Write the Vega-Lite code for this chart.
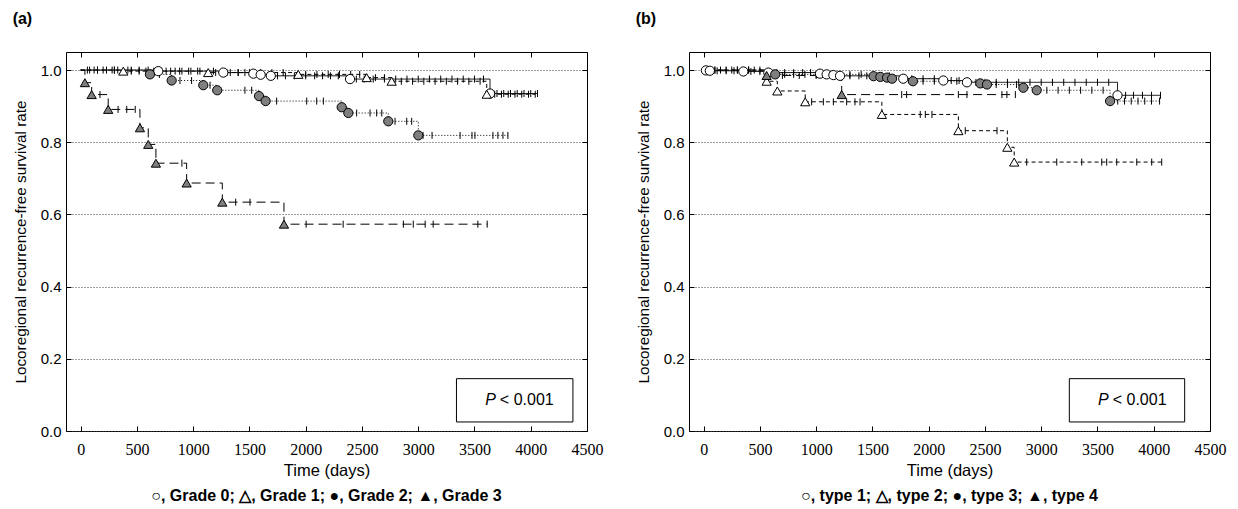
{
 "$schema": "https://vega.github.io/schema/vega-lite/v6.json",
 "background": "white",
 "padding": {"left": 12, "top": 11, "right": 2, "bottom": 2},
 "spacing": 31,
 "datasets": {
  "km": [
   {"p":"a","g":"Grade 0","k":"s","t":0,"s":1},
   {"p":"a","g":"Grade 0","k":"c","t":60,"s":1},{"p":"a","g":"Grade 0","k":"c","t":120,"s":1},{"p":"a","g":"Grade 0","k":"c","t":200,"s":1},{"p":"a","g":"Grade 0","k":"c","t":280,"s":1},{"p":"a","g":"Grade 0","k":"c","t":330,"s":1},{"p":"a","g":"Grade 0","k":"c","t":420,"s":1},{"p":"a","g":"Grade 0","k":"c","t":520,"s":1},{"p":"a","g":"Grade 0","k":"c","t":600,"s":1},
   {"p":"a","g":"Grade 0","k":"e","t":690,"s":0.997},
   {"p":"a","g":"Grade 0","k":"c","t":760,"s":0.997},{"p":"a","g":"Grade 0","k":"c","t":840,"s":0.997},{"p":"a","g":"Grade 0","k":"c","t":900,"s":0.997},{"p":"a","g":"Grade 0","k":"c","t":980,"s":0.997},{"p":"a","g":"Grade 0","k":"c","t":1060,"s":0.997},{"p":"a","g":"Grade 0","k":"c","t":1180,"s":0.997},
   {"p":"a","g":"Grade 0","k":"e","t":1268,"s":0.993},
   {"p":"a","g":"Grade 0","k":"c","t":1330,"s":0.993},{"p":"a","g":"Grade 0","k":"c","t":1400,"s":0.993},{"p":"a","g":"Grade 0","k":"c","t":1460,"s":0.993},
   {"p":"a","g":"Grade 0","k":"e","t":1535,"s":0.99},{"p":"a","g":"Grade 0","k":"e","t":1600,"s":0.987},{"p":"a","g":"Grade 0","k":"e","t":1690,"s":0.984},
   {"p":"a","g":"Grade 0","k":"c","t":1750,"s":0.984},{"p":"a","g":"Grade 0","k":"c","t":1820,"s":0.984},{"p":"a","g":"Grade 0","k":"c","t":1900,"s":0.984},{"p":"a","g":"Grade 0","k":"c","t":2000,"s":0.984},{"p":"a","g":"Grade 0","k":"c","t":2080,"s":0.984},{"p":"a","g":"Grade 0","k":"c","t":2150,"s":0.984},{"p":"a","g":"Grade 0","k":"c","t":2220,"s":0.984},{"p":"a","g":"Grade 0","k":"c","t":2290,"s":0.984},
   {"p":"a","g":"Grade 0","k":"e","t":2394,"s":0.975},
   {"p":"a","g":"Grade 0","k":"c","t":2450,"s":0.975},{"p":"a","g":"Grade 0","k":"c","t":2520,"s":0.975},{"p":"a","g":"Grade 0","k":"c","t":2600,"s":0.975},{"p":"a","g":"Grade 0","k":"c","t":2700,"s":0.975},{"p":"a","g":"Grade 0","k":"c","t":2800,"s":0.975},{"p":"a","g":"Grade 0","k":"c","t":2900,"s":0.975},{"p":"a","g":"Grade 0","k":"c","t":3000,"s":0.975},{"p":"a","g":"Grade 0","k":"c","t":3100,"s":0.975},{"p":"a","g":"Grade 0","k":"c","t":3200,"s":0.975},{"p":"a","g":"Grade 0","k":"c","t":3300,"s":0.975},{"p":"a","g":"Grade 0","k":"c","t":3400,"s":0.975},{"p":"a","g":"Grade 0","k":"c","t":3500,"s":0.975},{"p":"a","g":"Grade 0","k":"c","t":3580,"s":0.975},
   {"p":"a","g":"Grade 0","k":"e","t":3638,"s":0.935},
   {"p":"a","g":"Grade 0","k":"c","t":3700,"s":0.935},{"p":"a","g":"Grade 0","k":"c","t":3760,"s":0.935},{"p":"a","g":"Grade 0","k":"c","t":3820,"s":0.935},{"p":"a","g":"Grade 0","k":"c","t":3880,"s":0.935},{"p":"a","g":"Grade 0","k":"c","t":3940,"s":0.935},{"p":"a","g":"Grade 0","k":"c","t":4000,"s":0.935},{"p":"a","g":"Grade 0","k":"c","t":4060,"s":0.935},

   {"p":"a","g":"Grade 1","k":"s","t":0,"s":1},
   {"p":"a","g":"Grade 1","k":"c","t":80,"s":1},{"p":"a","g":"Grade 1","k":"c","t":150,"s":1},{"p":"a","g":"Grade 1","k":"c","t":230,"s":1},{"p":"a","g":"Grade 1","k":"c","t":300,"s":1},
   {"p":"a","g":"Grade 1","k":"e","t":379,"s":0.997},
   {"p":"a","g":"Grade 1","k":"c","t":450,"s":0.997},{"p":"a","g":"Grade 1","k":"c","t":520,"s":0.997},{"p":"a","g":"Grade 1","k":"c","t":580,"s":0.997},{"p":"a","g":"Grade 1","k":"c","t":650,"s":0.997},{"p":"a","g":"Grade 1","k":"c","t":720,"s":0.997},{"p":"a","g":"Grade 1","k":"c","t":800,"s":0.997},{"p":"a","g":"Grade 1","k":"c","t":880,"s":0.997},{"p":"a","g":"Grade 1","k":"c","t":960,"s":0.997},{"p":"a","g":"Grade 1","k":"c","t":1040,"s":0.997},
   {"p":"a","g":"Grade 1","k":"e","t":1134,"s":0.993},
   {"p":"a","g":"Grade 1","k":"c","t":1200,"s":0.993},{"p":"a","g":"Grade 1","k":"c","t":1300,"s":0.993},{"p":"a","g":"Grade 1","k":"c","t":1400,"s":0.993},{"p":"a","g":"Grade 1","k":"c","t":1500,"s":0.993},{"p":"a","g":"Grade 1","k":"c","t":1600,"s":0.993},{"p":"a","g":"Grade 1","k":"c","t":1700,"s":0.993},{"p":"a","g":"Grade 1","k":"c","t":1800,"s":0.993},
   {"p":"a","g":"Grade 1","k":"e","t":1934,"s":0.988},
   {"p":"a","g":"Grade 1","k":"c","t":2000,"s":0.988},{"p":"a","g":"Grade 1","k":"c","t":2100,"s":0.988},{"p":"a","g":"Grade 1","k":"c","t":2200,"s":0.988},{"p":"a","g":"Grade 1","k":"c","t":2300,"s":0.988},{"p":"a","g":"Grade 1","k":"c","t":2400,"s":0.988},{"p":"a","g":"Grade 1","k":"c","t":2480,"s":0.988},
   {"p":"a","g":"Grade 1","k":"e","t":2542,"s":0.979},
   {"p":"a","g":"Grade 1","k":"c","t":2620,"s":0.979},{"p":"a","g":"Grade 1","k":"c","t":2700,"s":0.979},
   {"p":"a","g":"Grade 1","k":"e","t":2764,"s":0.969},
   {"p":"a","g":"Grade 1","k":"c","t":2850,"s":0.969},{"p":"a","g":"Grade 1","k":"c","t":2950,"s":0.969},{"p":"a","g":"Grade 1","k":"c","t":3050,"s":0.969},{"p":"a","g":"Grade 1","k":"c","t":3150,"s":0.969},{"p":"a","g":"Grade 1","k":"c","t":3250,"s":0.969},{"p":"a","g":"Grade 1","k":"c","t":3350,"s":0.969},{"p":"a","g":"Grade 1","k":"c","t":3450,"s":0.969},{"p":"a","g":"Grade 1","k":"c","t":3550,"s":0.969},
   {"p":"a","g":"Grade 1","k":"e","t":3609,"s":0.933},
   {"p":"a","g":"Grade 1","k":"c","t":3680,"s":0.933},{"p":"a","g":"Grade 1","k":"c","t":3740,"s":0.933},{"p":"a","g":"Grade 1","k":"c","t":3800,"s":0.933},{"p":"a","g":"Grade 1","k":"c","t":3860,"s":0.933},{"p":"a","g":"Grade 1","k":"c","t":3920,"s":0.933},{"p":"a","g":"Grade 1","k":"c","t":3980,"s":0.933},{"p":"a","g":"Grade 1","k":"c","t":4040,"s":0.933},

   {"p":"a","g":"Grade 2","k":"s","t":0,"s":1},
   {"p":"a","g":"Grade 2","k":"c","t":150,"s":1},{"p":"a","g":"Grade 2","k":"c","t":300,"s":1},{"p":"a","g":"Grade 2","k":"c","t":450,"s":1},
   {"p":"a","g":"Grade 2","k":"e","t":616,"s":0.988},
   {"p":"a","g":"Grade 2","k":"c","t":700,"s":0.988},
   {"p":"a","g":"Grade 2","k":"e","t":809,"s":0.971},
   {"p":"a","g":"Grade 2","k":"c","t":883,"s":0.971},{"p":"a","g":"Grade 2","k":"c","t":986,"s":0.971},
   {"p":"a","g":"Grade 2","k":"e","t":1090,"s":0.958},
   {"p":"a","g":"Grade 2","k":"c","t":1150,"s":0.958},
   {"p":"a","g":"Grade 2","k":"e","t":1214,"s":0.944},
   {"p":"a","g":"Grade 2","k":"c","t":1460,"s":0.944},{"p":"a","g":"Grade 2","k":"c","t":1520,"s":0.944},
   {"p":"a","g":"Grade 2","k":"e","t":1585,"s":0.928},
   {"p":"a","g":"Grade 2","k":"e","t":1644,"s":0.914},
   {"p":"a","g":"Grade 2","k":"c","t":1742,"s":0.914},{"p":"a","g":"Grade 2","k":"c","t":2009,"s":0.914},{"p":"a","g":"Grade 2","k":"c","t":2098,"s":0.914},{"p":"a","g":"Grade 2","k":"c","t":2157,"s":0.914},
   {"p":"a","g":"Grade 2","k":"e","t":2320,"s":0.897},
   {"p":"a","g":"Grade 2","k":"e","t":2379,"s":0.881},
   {"p":"a","g":"Grade 2","k":"c","t":2453,"s":0.881},{"p":"a","g":"Grade 2","k":"c","t":2572,"s":0.881},{"p":"a","g":"Grade 2","k":"c","t":2631,"s":0.881},{"p":"a","g":"Grade 2","k":"c","t":2676,"s":0.881},
   {"p":"a","g":"Grade 2","k":"e","t":2734,"s":0.858},
   {"p":"a","g":"Grade 2","k":"c","t":2794,"s":0.858},{"p":"a","g":"Grade 2","k":"c","t":2898,"s":0.858},{"p":"a","g":"Grade 2","k":"c","t":2942,"s":0.858},
   {"p":"a","g":"Grade 2","k":"e","t":3001,"s":0.819},
   {"p":"a","g":"Grade 2","k":"c","t":3043,"s":0.819},{"p":"a","g":"Grade 2","k":"c","t":3123,"s":0.819},{"p":"a","g":"Grade 2","k":"c","t":3372,"s":0.819},{"p":"a","g":"Grade 2","k":"c","t":3478,"s":0.819},{"p":"a","g":"Grade 2","k":"c","t":3504,"s":0.819},{"p":"a","g":"Grade 2","k":"c","t":3664,"s":0.819},{"p":"a","g":"Grade 2","k":"c","t":3708,"s":0.819},{"p":"a","g":"Grade 2","k":"c","t":3753,"s":0.819},{"p":"a","g":"Grade 2","k":"c","t":3797,"s":0.819},

   {"p":"a","g":"Grade 3","k":"s","t":0,"s":1},
   {"p":"a","g":"Grade 3","k":"e","t":38,"s":0.965},
   {"p":"a","g":"Grade 3","k":"e","t":98,"s":0.932},
   {"p":"a","g":"Grade 3","k":"c","t":172,"s":0.932},
   {"p":"a","g":"Grade 3","k":"e","t":245,"s":0.891},
   {"p":"a","g":"Grade 3","k":"c","t":333,"s":0.891},{"p":"a","g":"Grade 3","k":"c","t":410,"s":0.891},{"p":"a","g":"Grade 3","k":"c","t":485,"s":0.891},
   {"p":"a","g":"Grade 3","k":"e","t":527,"s":0.84},
   {"p":"a","g":"Grade 3","k":"e","t":601,"s":0.794},
   {"p":"a","g":"Grade 3","k":"e","t":669,"s":0.742},
   {"p":"a","g":"Grade 3","k":"c","t":900,"s":0.742},
   {"p":"a","g":"Grade 3","k":"e","t":942,"s":0.687},
   {"p":"a","g":"Grade 3","k":"e","t":1259,"s":0.634},
   {"p":"a","g":"Grade 3","k":"c","t":1378,"s":0.634},{"p":"a","g":"Grade 3","k":"c","t":1505,"s":0.634},
   {"p":"a","g":"Grade 3","k":"e","t":1807,"s":0.573},
   {"p":"a","g":"Grade 3","k":"c","t":2004,"s":0.573},{"p":"a","g":"Grade 3","k":"c","t":2333,"s":0.573},{"p":"a","g":"Grade 3","k":"c","t":2868,"s":0.573},{"p":"a","g":"Grade 3","k":"c","t":2956,"s":0.573},{"p":"a","g":"Grade 3","k":"c","t":3062,"s":0.573},{"p":"a","g":"Grade 3","k":"c","t":3133,"s":0.573},{"p":"a","g":"Grade 3","k":"c","t":3530,"s":0.573},{"p":"a","g":"Grade 3","k":"c","t":3613,"s":0.573},

   {"p":"b","g":"type 1","k":"s","t":0,"s":1},
   {"p":"b","g":"type 1","k":"e","t":20,"s":0.999},{"p":"b","g":"type 1","k":"e","t":55,"s":0.998},
   {"p":"b","g":"type 1","k":"c","t":120,"s":0.998},{"p":"b","g":"type 1","k":"c","t":200,"s":0.998},{"p":"b","g":"type 1","k":"c","t":270,"s":0.998},
   {"p":"b","g":"type 1","k":"e","t":353,"s":0.996},
   {"p":"b","g":"type 1","k":"c","t":420,"s":0.996},{"p":"b","g":"type 1","k":"c","t":500,"s":0.996},
   {"p":"b","g":"type 1","k":"e","t":575,"s":0.993},
   {"p":"b","g":"type 1","k":"c","t":650,"s":0.993},{"p":"b","g":"type 1","k":"c","t":720,"s":0.993},{"p":"b","g":"type 1","k":"c","t":800,"s":0.993},{"p":"b","g":"type 1","k":"c","t":880,"s":0.993},{"p":"b","g":"type 1","k":"c","t":950,"s":0.993},
   {"p":"b","g":"type 1","k":"e","t":1034,"s":0.99},{"p":"b","g":"type 1","k":"e","t":1093,"s":0.988},{"p":"b","g":"type 1","k":"e","t":1153,"s":0.986},{"p":"b","g":"type 1","k":"e","t":1212,"s":0.984},
   {"p":"b","g":"type 1","k":"c","t":1300,"s":0.984},{"p":"b","g":"type 1","k":"c","t":1380,"s":0.984},{"p":"b","g":"type 1","k":"c","t":1450,"s":0.984},{"p":"b","g":"type 1","k":"c","t":1550,"s":0.984},{"p":"b","g":"type 1","k":"c","t":1650,"s":0.984},
   {"p":"b","g":"type 1","k":"e","t":1774,"s":0.976},
   {"p":"b","g":"type 1","k":"c","t":1850,"s":0.976},{"p":"b","g":"type 1","k":"c","t":1950,"s":0.976},{"p":"b","g":"type 1","k":"c","t":2050,"s":0.976},
   {"p":"b","g":"type 1","k":"e","t":2130,"s":0.971},
   {"p":"b","g":"type 1","k":"c","t":2200,"s":0.971},{"p":"b","g":"type 1","k":"c","t":2270,"s":0.971},
   {"p":"b","g":"type 1","k":"e","t":2340,"s":0.966},
   {"p":"b","g":"type 1","k":"c","t":2420,"s":0.966},{"p":"b","g":"type 1","k":"c","t":2500,"s":0.966},{"p":"b","g":"type 1","k":"c","t":2600,"s":0.966},{"p":"b","g":"type 1","k":"c","t":2700,"s":0.966},{"p":"b","g":"type 1","k":"c","t":2800,"s":0.966},{"p":"b","g":"type 1","k":"c","t":2900,"s":0.966},{"p":"b","g":"type 1","k":"c","t":3000,"s":0.966},{"p":"b","g":"type 1","k":"c","t":3100,"s":0.966},{"p":"b","g":"type 1","k":"c","t":3200,"s":0.966},{"p":"b","g":"type 1","k":"c","t":3300,"s":0.966},{"p":"b","g":"type 1","k":"c","t":3400,"s":0.966},{"p":"b","g":"type 1","k":"c","t":3500,"s":0.966},{"p":"b","g":"type 1","k":"c","t":3600,"s":0.966},
   {"p":"b","g":"type 1","k":"e","t":3678,"s":0.93},
   {"p":"b","g":"type 1","k":"c","t":3750,"s":0.93},{"p":"b","g":"type 1","k":"c","t":3820,"s":0.93},{"p":"b","g":"type 1","k":"c","t":3900,"s":0.93},{"p":"b","g":"type 1","k":"c","t":3980,"s":0.93},{"p":"b","g":"type 1","k":"c","t":4060,"s":0.93},

   {"p":"b","g":"type 2","k":"s","t":0,"s":1},
   {"p":"b","g":"type 2","k":"c","t":100,"s":1},{"p":"b","g":"type 2","k":"c","t":250,"s":1},{"p":"b","g":"type 2","k":"c","t":400,"s":1},
   {"p":"b","g":"type 2","k":"e","t":560,"s":0.969},
   {"p":"b","g":"type 2","k":"e","t":655,"s":0.942},
   {"p":"b","g":"type 2","k":"e","t":903,"s":0.912},
   {"p":"b","g":"type 2","k":"c","t":960,"s":0.912},{"p":"b","g":"type 2","k":"c","t":1064,"s":0.912},{"p":"b","g":"type 2","k":"c","t":1153,"s":0.912},{"p":"b","g":"type 2","k":"c","t":1271,"s":0.912},{"p":"b","g":"type 2","k":"c","t":1345,"s":0.912},{"p":"b","g":"type 2","k":"c","t":1390,"s":0.912},
   {"p":"b","g":"type 2","k":"e","t":1584,"s":0.877},
   {"p":"b","g":"type 2","k":"c","t":1925,"s":0.877},{"p":"b","g":"type 2","k":"c","t":1970,"s":0.877},{"p":"b","g":"type 2","k":"c","t":2029,"s":0.877},
   {"p":"b","g":"type 2","k":"e","t":2264,"s":0.832},
   {"p":"b","g":"type 2","k":"c","t":2325,"s":0.832},{"p":"b","g":"type 2","k":"c","t":2607,"s":0.832},
   {"p":"b","g":"type 2","k":"e","t":2699,"s":0.786},
   {"p":"b","g":"type 2","k":"e","t":2760,"s":0.745},
   {"p":"b","g":"type 2","k":"c","t":2871,"s":0.745},{"p":"b","g":"type 2","k":"c","t":3138,"s":0.745},{"p":"b","g":"type 2","k":"c","t":3360,"s":0.745},{"p":"b","g":"type 2","k":"c","t":3538,"s":0.745},{"p":"b","g":"type 2","k":"c","t":3582,"s":0.745},{"p":"b","g":"type 2","k":"c","t":3671,"s":0.745},{"p":"b","g":"type 2","k":"c","t":3849,"s":0.745},{"p":"b","g":"type 2","k":"c","t":3982,"s":0.745},{"p":"b","g":"type 2","k":"c","t":4071,"s":0.745},

   {"p":"b","g":"type 3","k":"s","t":0,"s":1},
   {"p":"b","g":"type 3","k":"c","t":100,"s":1},{"p":"b","g":"type 3","k":"c","t":200,"s":1},{"p":"b","g":"type 3","k":"c","t":300,"s":1},{"p":"b","g":"type 3","k":"c","t":400,"s":1},{"p":"b","g":"type 3","k":"c","t":500,"s":1},
   {"p":"b","g":"type 3","k":"e","t":636,"s":0.988},
   {"p":"b","g":"type 3","k":"c","t":720,"s":0.988},{"p":"b","g":"type 3","k":"c","t":800,"s":0.988},{"p":"b","g":"type 3","k":"c","t":900,"s":0.988},{"p":"b","g":"type 3","k":"c","t":1000,"s":0.988},{"p":"b","g":"type 3","k":"c","t":1100,"s":0.988},{"p":"b","g":"type 3","k":"c","t":1200,"s":0.988},{"p":"b","g":"type 3","k":"c","t":1300,"s":0.988},{"p":"b","g":"type 3","k":"c","t":1400,"s":0.988},
   {"p":"b","g":"type 3","k":"e","t":1510,"s":0.983},{"p":"b","g":"type 3","k":"e","t":1570,"s":0.981},{"p":"b","g":"type 3","k":"e","t":1630,"s":0.979},{"p":"b","g":"type 3","k":"e","t":1675,"s":0.976},
   {"p":"b","g":"type 3","k":"c","t":1750,"s":0.976},
   {"p":"b","g":"type 3","k":"e","t":1860,"s":0.969},
   {"p":"b","g":"type 3","k":"c","t":1950,"s":0.969},{"p":"b","g":"type 3","k":"c","t":2050,"s":0.969},{"p":"b","g":"type 3","k":"c","t":2150,"s":0.969},{"p":"b","g":"type 3","k":"c","t":2250,"s":0.969},{"p":"b","g":"type 3","k":"c","t":2350,"s":0.969},
   {"p":"b","g":"type 3","k":"e","t":2459,"s":0.963},{"p":"b","g":"type 3","k":"e","t":2518,"s":0.96},
   {"p":"b","g":"type 3","k":"c","t":2600,"s":0.96},{"p":"b","g":"type 3","k":"c","t":2700,"s":0.96},{"p":"b","g":"type 3","k":"c","t":2780,"s":0.96},
   {"p":"b","g":"type 3","k":"e","t":2841,"s":0.951},
   {"p":"b","g":"type 3","k":"e","t":2960,"s":0.944},
   {"p":"b","g":"type 3","k":"c","t":3050,"s":0.944},{"p":"b","g":"type 3","k":"c","t":3150,"s":0.944},{"p":"b","g":"type 3","k":"c","t":3250,"s":0.944},{"p":"b","g":"type 3","k":"c","t":3350,"s":0.944},{"p":"b","g":"type 3","k":"c","t":3450,"s":0.944},{"p":"b","g":"type 3","k":"c","t":3550,"s":0.944},
   {"p":"b","g":"type 3","k":"e","t":3612,"s":0.914},
   {"p":"b","g":"type 3","k":"c","t":3680,"s":0.914},{"p":"b","g":"type 3","k":"c","t":3740,"s":0.914},{"p":"b","g":"type 3","k":"c","t":3800,"s":0.914},{"p":"b","g":"type 3","k":"c","t":3860,"s":0.914},{"p":"b","g":"type 3","k":"c","t":3920,"s":0.914},{"p":"b","g":"type 3","k":"c","t":3980,"s":0.914},{"p":"b","g":"type 3","k":"c","t":4052,"s":0.914},

   {"p":"b","g":"type 4","k":"s","t":0,"s":1},
   {"p":"b","g":"type 4","k":"c","t":150,"s":1},{"p":"b","g":"type 4","k":"c","t":300,"s":1},{"p":"b","g":"type 4","k":"c","t":450,"s":1},
   {"p":"b","g":"type 4","k":"e","t":560,"s":0.985},
   {"p":"b","g":"type 4","k":"c","t":700,"s":0.985},{"p":"b","g":"type 4","k":"c","t":850,"s":0.985},{"p":"b","g":"type 4","k":"c","t":1000,"s":0.985},{"p":"b","g":"type 4","k":"c","t":1100,"s":0.985},
   {"p":"b","g":"type 4","k":"e","t":1227,"s":0.932},
   {"p":"b","g":"type 4","k":"c","t":1760,"s":0.932},{"p":"b","g":"type 4","k":"c","t":1804,"s":0.932},{"p":"b","g":"type 4","k":"c","t":2264,"s":0.932},{"p":"b","g":"type 4","k":"c","t":2340,"s":0.932},{"p":"b","g":"type 4","k":"c","t":2651,"s":0.932},{"p":"b","g":"type 4","k":"c","t":2695,"s":0.932},{"p":"b","g":"type 4","k":"c","t":2770,"s":0.932}
  ]
 },
 "hconcat": [
  {
   "title": {"text": "(a)", "anchor": "start", "fontSize": 16, "fontWeight": "bold", "font": "Liberation Sans", "color": "black", "offset": 24},
   "vconcat": [
    {
     "width": 521, "height": 379,
     "title": {"text": "○, Grade 0; △, Grade 1; ●, Grade 2; ▲, Grade 3", "orient": "bottom", "anchor": "middle", "frame": "group", "fontSize": 16, "fontWeight": "bold", "font": "Liberation Sans", "color": "black", "offset": 9},
     "data": {"name": "km"},
     "transform": [{"filter": "datum.p === 'a'"}],
     "resolve": {"axis": {"x": "independent", "y": "independent"}},
     "layer": [
      {
       "mark": {"type": "line", "interpolate": "step-after", "color": "black", "strokeWidth": 1},
       "encoding": {
        "x": {"field": "t", "type": "quantitative", "scale": {"domain": [-130, 4500], "nice": false, "zero": false},
              "axis": {"title": "Time (days)", "values": [0,500,1000,1500,2000,2500,3000,3500,4000,4500], "format": "d", "grid": false, "domain": false, "tickSize": -5, "tickColor": "black", "labelPadding": 15, "labelFlush": false, "labelFont": "Liberation Sans Narrow", "labelFontSize": 16, "labelColor": "black", "titleFont": "Liberation Sans", "titleFontSize": 16.5, "titleFontWeight": "normal", "titleColor": "black", "titlePadding": 5}},
        "y": {"field": "s", "type": "quantitative", "scale": {"domain": [0, 1.05], "nice": false},
              "axis": {"title": "Locoregional recurrence-free survival rate", "values": [0,0.2,0.4,0.6,0.8,1], "format": ".1f", "grid": true, "gridDash": [1,2], "gridColor": "#444", "gridWidth": 1, "domain": false, "tickSize": -5, "tickColor": "black", "labelPadding": 10, "labelFlush": false, "labelFont": "Liberation Sans", "labelFontSize": 15, "labelColor": "black", "titleFont": "Liberation Sans", "titleFontSize": 15.3, "titleFontWeight": "normal", "titleColor": "black", "titlePadding": 12}},
        "detail": {"field": "g"},
        "strokeDash": {"field": "g", "scale": {"domain": ["Grade 0","Grade 1","Grade 2","Grade 3"], "range": [[1,0],[4,3],[1,2],[9,5]]}, "legend": null}
       }
      },
      {
       "transform": [{"filter": "datum.k === 'c'"}],
       "mark": {"type": "point", "shape": "M0,-1L0,1", "size": 49, "filled": false, "stroke": "black", "strokeWidth": 1, "opacity": 1},
       "encoding": {
        "x": {"field": "t", "type": "quantitative", "scale": {"domain": [-130, 4500], "nice": false, "zero": false},
              "axis": {"orient": "top", "values": [0,500,1000,1500,2000,2500,3000,3500,4000,4500], "labels": false, "title": null, "grid": false, "domain": false, "tickSize": -5, "tickColor": "black"}},
        "y": {"field": "s", "type": "quantitative", "scale": {"domain": [0, 1.05], "nice": false},
              "axis": {"orient": "right", "values": [0,0.2,0.4,0.6,0.8,1], "labels": false, "title": null, "grid": false, "domain": false, "tickSize": -5, "tickColor": "black"}}
       }
      },
      {
       "transform": [{"filter": "datum.k === 'e'"}],
       "mark": {"type": "point", "filled": true, "size": 85, "stroke": "black", "strokeWidth": 1, "opacity": 1},
       "encoding": {
        "x": {"field": "t", "type": "quantitative", "scale": {"domain": [-130, 4500], "nice": false, "zero": false}, "axis": null},
        "y": {"field": "s", "type": "quantitative", "scale": {"domain": [0, 1.05], "nice": false}, "axis": null},
        "shape": {"field": "g", "scale": {"domain": ["Grade 0","Grade 1","Grade 2","Grade 3"], "range": ["circle","triangle-up","circle","triangle-up"]}, "legend": null},
        "fill": {"field": "g", "scale": {"domain": ["Grade 0","Grade 1","Grade 2","Grade 3"], "range": ["white","white","#7f7f7f","#7f7f7f"]}, "legend": null}
       }
      },
      {
       "data": {"values": [{}]},
       "mark": {"type": "rect", "fill": "white", "stroke": "black", "strokeWidth": 1},
       "encoding": {
        "x": {"datum": 3340, "type": "quantitative", "scale": {"domain": [-130, 4500], "nice": false, "zero": false}, "axis": null},
        "x2": {"datum": 4375},
        "y": {"datum": 0.025, "type": "quantitative", "scale": {"domain": [0, 1.05], "nice": false}, "axis": null},
        "y2": {"datum": 0.145}
       }
      },
      {
       "data": {"values": [{}]},
       "mark": {"type": "text", "text": "P", "fontStyle": "italic", "align": "right", "baseline": "middle", "fontSize": 16, "font": "Liberation Sans", "color": "black"},
       "encoding": {
        "x": {"datum": 3690, "type": "quantitative", "scale": {"domain": [-130, 4500], "nice": false, "zero": false}, "axis": null},
        "y": {"datum": 0.085, "type": "quantitative", "scale": {"domain": [0, 1.05], "nice": false}, "axis": null}
       }
      },
      {
       "data": {"values": [{}]},
       "mark": {"type": "text", "text": "< 0.001", "align": "left", "dx": 4, "baseline": "middle", "fontSize": 16, "font": "Liberation Sans", "color": "black"},
       "encoding": {
        "x": {"datum": 3690, "type": "quantitative", "scale": {"domain": [-130, 4500], "nice": false, "zero": false}, "axis": null},
        "y": {"datum": 0.085, "type": "quantitative", "scale": {"domain": [0, 1.05], "nice": false}, "axis": null}
       }
      }
     ]
    }
   ]
  },
  {
   "title": {"text": "(b)", "anchor": "start", "fontSize": 16, "fontWeight": "bold", "font": "Liberation Sans", "color": "black", "offset": 24},
   "vconcat": [
    {
     "width": 521, "height": 379,
     "title": {"text": "○, type 1; △, type 2; ●, type 3; ▲, type 4", "orient": "bottom", "anchor": "middle", "frame": "group", "fontSize": 16, "fontWeight": "bold", "font": "Liberation Sans", "color": "black", "offset": 9},
     "data": {"name": "km"},
     "transform": [{"filter": "datum.p === 'b'"}],
     "resolve": {"axis": {"x": "independent", "y": "independent"}},
     "layer": [
      {
       "mark": {"type": "line", "interpolate": "step-after", "color": "black", "strokeWidth": 1},
       "encoding": {
        "x": {"field": "t", "type": "quantitative", "scale": {"domain": [-130, 4500], "nice": false, "zero": false},
              "axis": {"title": "Time (days)", "values": [0,500,1000,1500,2000,2500,3000,3500,4000,4500], "format": "d", "grid": false, "domain": false, "tickSize": -5, "tickColor": "black", "labelPadding": 15, "labelFlush": false, "labelFont": "Liberation Sans Narrow", "labelFontSize": 16, "labelColor": "black", "titleFont": "Liberation Sans", "titleFontSize": 16.5, "titleFontWeight": "normal", "titleColor": "black", "titlePadding": 5}},
        "y": {"field": "s", "type": "quantitative", "scale": {"domain": [0, 1.05], "nice": false},
              "axis": {"title": "Locoregional recurrence-free survival rate", "values": [0,0.2,0.4,0.6,0.8,1], "format": ".1f", "grid": true, "gridDash": [1,2], "gridColor": "#444", "gridWidth": 1, "domain": false, "tickSize": -5, "tickColor": "black", "labelPadding": 10, "labelFlush": false, "labelFont": "Liberation Sans", "labelFontSize": 15, "labelColor": "black", "titleFont": "Liberation Sans", "titleFontSize": 15.3, "titleFontWeight": "normal", "titleColor": "black", "titlePadding": 12}},
        "detail": {"field": "g"},
        "strokeDash": {"field": "g", "scale": {"domain": ["type 1","type 2","type 3","type 4"], "range": [[1,0],[4,3],[1,2],[9,5]]}, "legend": null}
       }
      },
      {
       "transform": [{"filter": "datum.k === 'c'"}],
       "mark": {"type": "point", "shape": "M0,-1L0,1", "size": 49, "filled": false, "stroke": "black", "strokeWidth": 1, "opacity": 1},
       "encoding": {
        "x": {"field": "t", "type": "quantitative", "scale": {"domain": [-130, 4500], "nice": false, "zero": false},
              "axis": {"orient": "top", "values": [0,500,1000,1500,2000,2500,3000,3500,4000,4500], "labels": false, "title": null, "grid": false, "domain": false, "tickSize": -5, "tickColor": "black"}},
        "y": {"field": "s", "type": "quantitative", "scale": {"domain": [0, 1.05], "nice": false},
              "axis": {"orient": "right", "values": [0,0.2,0.4,0.6,0.8,1], "labels": false, "title": null, "grid": false, "domain": false, "tickSize": -5, "tickColor": "black"}}
       }
      },
      {
       "transform": [{"filter": "datum.k === 'e'"}],
       "mark": {"type": "point", "filled": true, "size": 85, "stroke": "black", "strokeWidth": 1, "opacity": 1},
       "encoding": {
        "x": {"field": "t", "type": "quantitative", "scale": {"domain": [-130, 4500], "nice": false, "zero": false}, "axis": null},
        "y": {"field": "s", "type": "quantitative", "scale": {"domain": [0, 1.05], "nice": false}, "axis": null},
        "shape": {"field": "g", "scale": {"domain": ["type 1","type 2","type 3","type 4"], "range": ["circle","triangle-up","circle","triangle-up"]}, "legend": null},
        "fill": {"field": "g", "scale": {"domain": ["type 1","type 2","type 3","type 4"], "range": ["white","white","#7f7f7f","#7f7f7f"]}, "legend": null}
       }
      },
      {
       "data": {"values": [{}]},
       "mark": {"type": "rect", "fill": "white", "stroke": "black", "strokeWidth": 1},
       "encoding": {
        "x": {"datum": 3250, "type": "quantitative", "scale": {"domain": [-130, 4500], "nice": false, "zero": false}, "axis": null},
        "x2": {"datum": 4275},
        "y": {"datum": 0.025, "type": "quantitative", "scale": {"domain": [0, 1.05], "nice": false}, "axis": null},
        "y2": {"datum": 0.145}
       }
      },
      {
       "data": {"values": [{}]},
       "mark": {"type": "text", "text": "P", "fontStyle": "italic", "align": "right", "baseline": "middle", "fontSize": 16, "font": "Liberation Sans", "color": "black"},
       "encoding": {
        "x": {"datum": 3600, "type": "quantitative", "scale": {"domain": [-130, 4500], "nice": false, "zero": false}, "axis": null},
        "y": {"datum": 0.085, "type": "quantitative", "scale": {"domain": [0, 1.05], "nice": false}, "axis": null}
       }
      },
      {
       "data": {"values": [{}]},
       "mark": {"type": "text", "text": "< 0.001", "align": "left", "dx": 4, "baseline": "middle", "fontSize": 16, "font": "Liberation Sans", "color": "black"},
       "encoding": {
        "x": {"datum": 3600, "type": "quantitative", "scale": {"domain": [-130, 4500], "nice": false, "zero": false}, "axis": null},
        "y": {"datum": 0.085, "type": "quantitative", "scale": {"domain": [0, 1.05], "nice": false}, "axis": null}
       }
      }
     ]
    }
   ]
  }
 ],
 "config": {
  "view": {"stroke": "black", "strokeWidth": 1},
  "font": "Liberation Sans"
 }
}
